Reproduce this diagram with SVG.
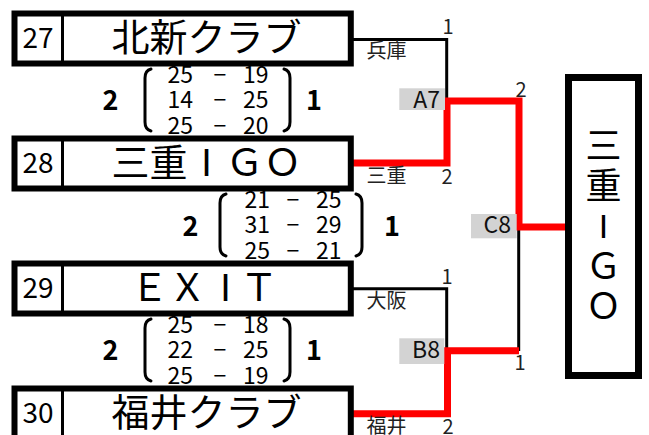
<svg xmlns="http://www.w3.org/2000/svg" width="649" height="435" viewBox="0 0 649 435">
<style>
text{font-family:"Noto Sans CJK JP","Noto Sans",sans-serif;fill:#000}
.box{fill:#fff;stroke:#000;stroke-width:6}
.div{stroke:#000;stroke-width:3}
.num{font-size:28px;text-anchor:middle}
.name{font-size:38px;text-anchor:middle}
.bar{font-family:"Liberation Sans",sans-serif;font-weight:normal}
.big{font-size:27px;font-weight:bold;text-anchor:middle}
.sc{font-size:23px}
.brk{fill:none;stroke:#000;stroke-width:3;stroke-linecap:round}
.ln{fill:none;stroke:#000;stroke-width:3}
.win{fill:none;stroke:#f00;stroke-width:7}
.lab{font-size:20px;fill:#222}
.pt{font-size:20px;fill:#222;text-anchor:middle}
.tag{fill:#d3d3d3}
.tagt{font-size:23px;text-anchor:end;fill:#111}
.fin{font-size:36px;text-anchor:middle}
</style>

<g id="connectors">
<path class="ln" d="M351,39.5 H446.7 V101"/>
<path class="ln" d="M351,288.7 H446.7 V351"/>
<path class="ln" d="M518.7,226 V351"/>
<path class="win" d="M351,163 H447 V101 H519 V227 H568"/>
<path class="win" d="M351,413.7 H447.5 V350.8 H519"/>
<rect class="tag" x="399.3" y="88.3" width="45.7" height="21.7"/>
<text class="tagt" x="440" y="108">A7</text>
<rect class="tag" x="399.3" y="338.3" width="45" height="25.7"/>
<text class="tagt" x="440" y="358">B8</text>
<rect class="tag" x="471" y="214" width="45.7" height="24.3"/>
<text class="tagt" x="511" y="233">C8</text>
<text class="lab" x="366.5" y="58">兵庫</text>
<text class="lab" x="366.5" y="183">三重</text>
<text class="lab" x="366.5" y="308">大阪</text>
<text class="lab" x="366.5" y="433">福井</text>
<text class="pt" x="448" y="33.5">1</text>
<text class="pt" x="447" y="183.5">2</text>
<text class="pt" x="447" y="283.5">1</text>
<text class="pt" x="448" y="433.5">2</text>
<text class="pt" x="521" y="96.5">2</text>
<text class="pt" x="520" y="370">1</text>
</g>

<g id="team27">
<rect class="box" x="14.5" y="13.5" width="336.3" height="50"/>
<line class="div" x1="62.5" y1="13.5" x2="62.5" y2="63.5"/>
<text class="num" x="38" y="48">27</text>
<text class="name" x="206.6" y="51">北新クラブ</text>
</g>

<g id="team28">
<rect class="box" x="14.5" y="138.5" width="336.3" height="50"/>
<line class="div" x1="62.5" y1="138.5" x2="62.5" y2="188.5"/>
<text class="num" x="38" y="173">28</text>
<text class="name" y="176"><tspan x="130.6">三</tspan><tspan x="168.6">重</tspan><tspan class="bar" x="206.6">I</tspan><tspan x="244.6">Ｇ</tspan><tspan x="282.6">Ｏ</tspan></text>
</g>

<g id="team29">
<rect class="box" x="14.5" y="263.5" width="336.3" height="50"/>
<line class="div" x1="62.5" y1="263.5" x2="62.5" y2="313.5"/>
<text class="num" x="38" y="298">29</text>
<text class="name" y="301"><tspan x="149.6">Ｅ</tspan><tspan x="187.6">Ｘ</tspan><tspan class="bar" x="225.6">I</tspan><tspan x="259">Ｔ</tspan></text>
</g>

<g id="team30">
<rect class="box" x="14.5" y="388.5" width="336.3" height="60"/>
<line class="div" x1="62.5" y1="388.5" x2="62.5" y2="440"/>
<text class="num" x="38" y="423">30</text>
<text class="name" x="206.6" y="426">福井クラブ</text>
</g>

<g id="score1">
<text class="big" x="110.5" y="110">2</text>
<path class="brk" d="M151,69 Q145,70.5 145,78 V122 Q145,129.5 151,131"/>
<text class="sc"><tspan x="193" y="83" text-anchor="end">25</tspan><tspan x="220" y="83" text-anchor="middle">−</tspan><tspan x="243" y="83">19</tspan></text>
<text class="sc"><tspan x="193" y="108" text-anchor="end">14</tspan><tspan x="220" y="108" text-anchor="middle">−</tspan><tspan x="243" y="108">25</tspan></text>
<text class="sc"><tspan x="193" y="134" text-anchor="end">25</tspan><tspan x="220" y="134" text-anchor="middle">−</tspan><tspan x="243" y="134">20</tspan></text>
<path class="brk" d="M284,69 Q290,70.5 290,78 V122 Q290,129.5 284,131"/>
<text class="big" x="314" y="110">1</text>
</g>

<g id="score2">
<text class="big" x="190.5" y="236">2</text>
<path class="brk" d="M226,194 Q220,195.5 220,203 V247 Q220,254.5 226,256"/>
<text class="sc"><tspan x="270" y="208" text-anchor="end">21</tspan><tspan x="293" y="208" text-anchor="middle">−</tspan><tspan x="316" y="208">25</tspan></text>
<text class="sc"><tspan x="270" y="233" text-anchor="end">31</tspan><tspan x="293" y="233" text-anchor="middle">−</tspan><tspan x="316" y="233">29</tspan></text>
<text class="sc"><tspan x="270" y="259" text-anchor="end">25</tspan><tspan x="293" y="259" text-anchor="middle">−</tspan><tspan x="316" y="259">21</tspan></text>
<path class="brk" d="M356,194 Q362,195.5 362,203 V247 Q362,254.5 356,256"/>
<text class="big" x="392" y="236">1</text>
</g>

<g id="score3">
<text class="big" x="110.5" y="360">2</text>
<path class="brk" d="M151,319 Q145,320.5 145,328 V372 Q145,379.5 151,381"/>
<text class="sc"><tspan x="193" y="333" text-anchor="end">25</tspan><tspan x="220" y="333" text-anchor="middle">−</tspan><tspan x="243" y="333">18</tspan></text>
<text class="sc"><tspan x="193" y="358" text-anchor="end">22</tspan><tspan x="220" y="358" text-anchor="middle">−</tspan><tspan x="243" y="358">25</tspan></text>
<text class="sc"><tspan x="193" y="384" text-anchor="end">25</tspan><tspan x="220" y="384" text-anchor="middle">−</tspan><tspan x="243" y="384">19</tspan></text>
<path class="brk" d="M284,319 Q290,320.5 290,328 V372 Q290,379.5 284,381"/>
<text class="big" x="314" y="360">1</text>
</g>

<g id="winner">
<rect class="box" x="568.5" y="77.5" width="70" height="298" style="stroke-width:7"/>
<text class="fin" x="603.5" y="158.5">三</text>
<text class="fin" x="603.5" y="199">重</text>
<text class="fin bar" x="603.5" y="238" style="font-size:34px">I</text>
<text class="fin" x="603.5" y="279">Ｇ</text>
<text class="fin" x="603.5" y="319">Ｏ</text>
</g>
</svg>
